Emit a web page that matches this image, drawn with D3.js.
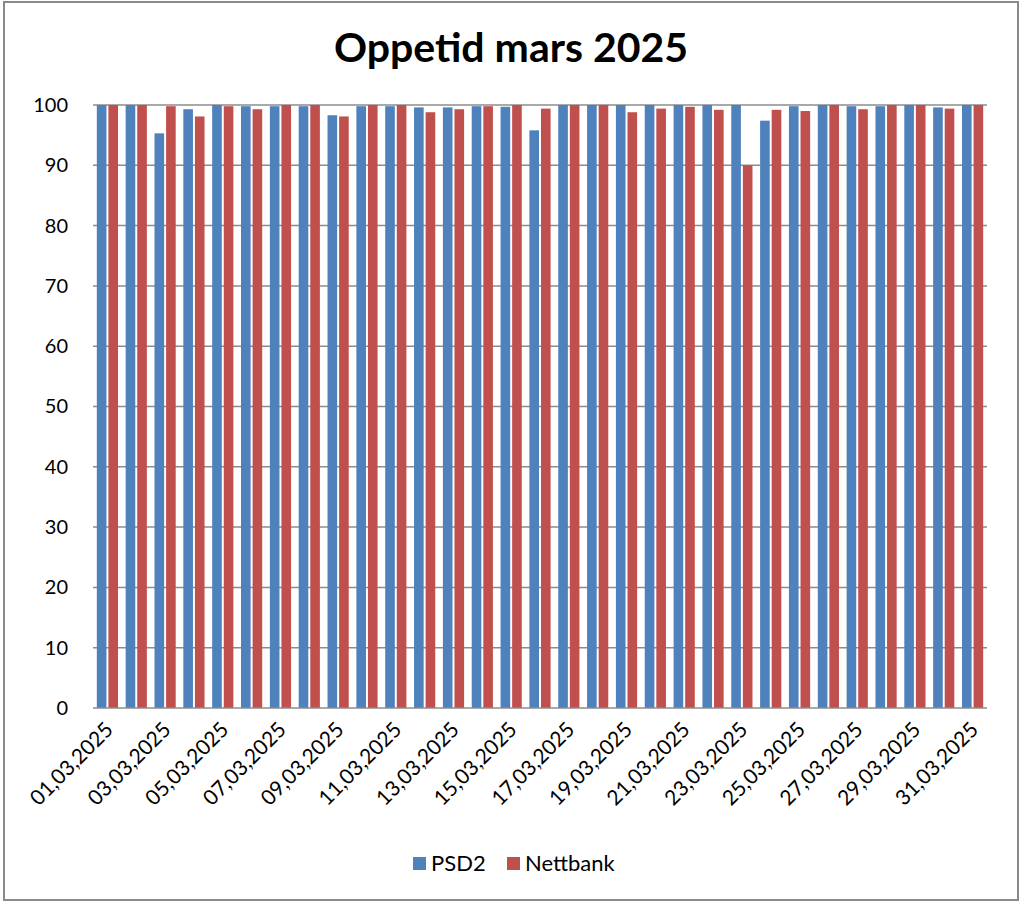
<!DOCTYPE html>
<html>
<head>
<meta charset="utf-8">
<script src="https://cdn.jsdelivr.net/npm/d3@7"></script>
<style>
  html, body { margin: 0; padding: 0; background: #fff; }
  svg { display: block; }
</style>
</head>
<body>
<div id="chart"></div>
<script>
(function() {
  'use strict';

  // 데이터
  const days = [
    '01,03,2025', '02,03,2025', '03,03,2025', '04,03,2025', '05,03,2025', '06,03,2025',
    '07,03,2025', '08,03,2025', '09,03,2025', '10,03,2025', '11,03,2025', '12,03,2025',
    '13,03,2025', '14,03,2025', '15,03,2025', '16,03,2025', '17,03,2025', '18,03,2025',
    '19,03,2025', '20,03,2025', '21,03,2025', '22,03,2025', '23,03,2025', '24,03,2025',
    '25,03,2025', '26,03,2025', '27,03,2025', '28,03,2025', '29,03,2025', '30,03,2025',
    '31,03,2025'
  ];
  const psd2 = [
    100, 100, 95.3, 99.3, 100, 99.8, 99.8, 99.8, 98.3, 99.8, 99.8, 99.6,
    99.6, 99.8, 99.7, 95.8, 100, 100, 100, 100, 100, 100, 100, 97.4,
    99.8, 100, 99.8, 99.8, 100, 99.6, 100
  ];
  const nettbank = [
    100, 100, 99.8, 98.1, 99.8, 99.3, 100, 100, 98.1, 100, 100, 98.8,
    99.3, 99.8, 100, 99.4, 100, 100, 98.8, 99.4, 99.7, 99.2, 90.0, 99.2,
    99.0, 100, 99.3, 100, 100, 99.4, 100
  ];
  const seriesNames = ['PSD2', 'Nettbank'];
  const seriesColors = ['#4F81BD', '#C0504D'];
  const yTicks = [0, 10, 20, 30, 40, 50, 60, 70, 80, 90, 100];

  const W = 1024, H = 906;
  const plot = { left: 93, right: 987, top: 105, bottom: 708 };
  const font = 'Lato, "Open Sans", sans-serif';

  const svg = d3.select('#chart').append('svg')
    .attr('width', W)
    .attr('height', H);

  // 바깥 테두리
  svg.append('rect')
    .attr('x', 4).attr('y', 2)
    .attr('width', 1014).attr('height', 898)
    .attr('fill', '#fff')
    .attr('stroke', '#8a8a8a')
    .attr('stroke-width', 2);

  // 제목
  svg.append('text')
    .attr('x', 511).attr('y', 62)
    .attr('text-anchor', 'middle')
    .attr('font-family', font)
    .attr('font-weight', 'bold')
    .attr('font-size', '41px')
    .attr('fill', '#000')
    .text('Oppetid mars 2025');

  // 스케일
  const x0 = d3.scaleBand()
    .domain(days)
    .range([plot.left, plot.right])
    .paddingInner(0).paddingOuter(0);

  const x1 = d3.scaleBand()
    .domain(seriesNames)
    .range([0, x0.bandwidth()])
    .paddingInner(0.17)
    .paddingOuter(0.33);

  const y = d3.scaleLinear()
    .domain([0, 100])
    .range([plot.bottom, plot.top]);

  // 그리드 라인
  svg.append('g')
    .selectAll('line')
    .data(yTicks.filter(d => d > 0))
    .enter()
    .append('line')
    .attr('x1', plot.left).attr('x2', plot.right)
    .attr('y1', d => y(d)).attr('y2', d => y(d))
    .attr('stroke', '#8c8c8c')
    .attr('stroke-width', 1.5);

  // 막대
  const rows = days.map((d, i) => ({ day: d, values: [psd2[i], nettbank[i]] }));
  const groups = svg.append('g')
    .selectAll('g')
    .data(rows)
    .enter()
    .append('g')
    .attr('transform', d => `translate(${x0(d.day)},0)`);

  groups.selectAll('rect')
    .data(d => d.values.map((v, k) => ({ name: seriesNames[k], value: v, color: seriesColors[k] })))
    .enter()
    .append('rect')
    .attr('x', d => x1(d.name))
    .attr('width', x1.bandwidth())
    .attr('y', d => y(d.value))
    .attr('height', d => y(0) - y(d.value))
    .attr('fill', d => d.color);

  // Y축
  const yAxis = svg.append('g')
    .attr('transform', `translate(${plot.left - 25},0)`)
    .call(d3.axisLeft(y).tickValues(yTicks).tickSize(0).tickPadding(0));
  yAxis.select('.domain').remove();
  yAxis.selectAll('text')
    .attr('font-family', font)
    .attr('font-size', '20px')
    .attr('fill', '#000');

  // X축
  svg.append('line')
    .attr('x1', plot.left).attr('x2', plot.right)
    .attr('y1', plot.bottom).attr('y2', plot.bottom)
    .attr('stroke', '#8c8c8c')
    .attr('stroke-width', 1.5);

  const xAxis = svg.append('g')
    .attr('transform', `translate(0,${plot.bottom})`)
    .call(d3.axisBottom(x0).tickValues(days.filter((d, i) => i % 2 === 0)).tickSize(0).tickPadding(0));
  xAxis.select('.domain').remove();
  xAxis.selectAll('text')
    .attr('font-family', font)
    .attr('font-size', '21px')
    .attr('fill', '#000')
    .attr('text-anchor', 'end')
    .attr('dy', 0)
    .attr('y', 0)
    .attr('transform', 'translate(7,23) rotate(-45)');

  // 범례
  const legend = svg.append('g');
  const legendX = [413, 507];
  seriesNames.forEach((name, k) => {
    legend.append('rect')
      .attr('x', legendX[k]).attr('y', 857)
      .attr('width', 13).attr('height', 13)
      .attr('fill', seriesColors[k]);
    legend.append('text')
      .attr('x', legendX[k] + 18).attr('y', 871)
      .attr('font-family', font)
      .attr('font-size', '22px')
      .attr('fill', '#000')
      .text(name);
  });
})();
</script>
</body>
</html>
